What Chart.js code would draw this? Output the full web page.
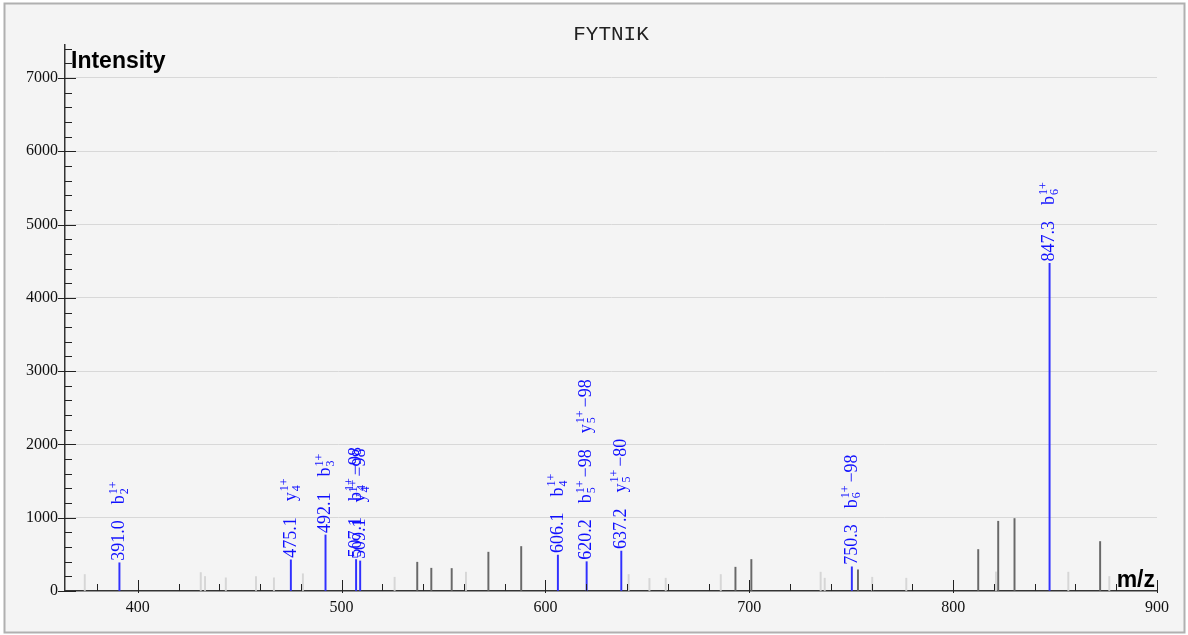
<!DOCTYPE html>
<html>
<head>
<meta charset="utf-8">
<title>FYTNIK</title>
<script src="https://cdn.jsdelivr.net/npm/chart.js@4.4.1/dist/chart.umd.min.js"></script>
<style>
  html, body { margin: 0; padding: 0; background: #fff; }
</style>
</head>
<body>
<canvas id="spectrum" width="1188" height="635"></canvas>
<script>
const peptide = "FYTNIK";

// matched fragment peaks (blue, annotated)
const matchedMz = [391.0, 475.1, 492.1, 507.1, 509.1, 606.1, 620.2, 637.2, 750.3, 847.3];
const matchedIntensity = [385, 425, 765, 430, 410, 490, 400, 545, 330, 4470];
const matchedIons = [["b2"], ["y4"], ["b3"], ["b4-98"], ["y4-98"], ["b4"], ["b5-98", "y5-98"], ["y5-80"], ["b6-98"], ["b6"]];
const ionCharge = "1+";

// unmatched peaks
const otherMz = [537.1, 544.0, 554.0, 572.0, 588.1, 693.2, 701.0, 753.3, 812.3, 822.1, 830.1, 872.1];
const otherIntensity = [393, 311, 307, 530, 607, 325, 430, 289, 566, 952, 989, 675];

// faint peaks
const faintMz = [374.0, 430.9, 433.0, 443.2, 458.0, 466.8, 481.0, 526.0, 561.0, 640.8, 651.0, 659.0,
  686.0, 735.0, 737.0, 760.3, 777.0, 821.0, 856.5, 876.6];
const faintIntensity = [225, 252, 198, 180, 198, 180, 235, 188, 257, 225, 172, 175,
  225, 257, 175, 188, 175, 260, 257, 198];

const toPoints = (xs, ys) => xs.map((x, i) => ({ x: x, y: ys[i] }));

const serif = '"Liberation Serif", "Times New Roman", serif';
const sans = '"Liberation Sans", Arial, sans-serif';

const framePlugin = {
  id: "frame",
  beforeDraw(chart) {
    const ctx = chart.ctx;
    ctx.save();
    ctx.fillStyle = "#ffffff";
    ctx.fillRect(0, 0, chart.width, chart.height);
    ctx.fillStyle = "#f4f4f4";
    ctx.fillRect(4, 3, chart.width - 8, chart.height - 6);
    ctx.strokeStyle = "#b0b0b0";
    ctx.lineWidth = 2;
    ctx.strokeRect(4.5, 3.5, chart.width - 8, chart.height - 6);
    ctx.restore();
  },
  afterDraw(chart) {
    const ctx = chart.ctx;
    const area = chart.chartArea;
    ctx.save();
    ctx.fillStyle = "#222";
    ctx.font = '21px "Liberation Mono", "Courier New", monospace';
    ctx.textAlign = "center";
    ctx.textBaseline = "middle";
    ctx.fillText(peptide, (area.left + area.right) / 2, 34);
    ctx.fillStyle = "#000";
    ctx.font = "bold 23px " + sans;
    ctx.textBaseline = "alphabetic";
    ctx.textAlign = "left";
    ctx.fillText("Intensity", area.left + 6, 68);
    ctx.textAlign = "right";
    ctx.fillText("m/z", area.right - 2, 587);
    ctx.restore();
  }
};

// inward tick marks: major + minor
const ticksPlugin = {
  id: "inwardTicks",
  afterDatasetsDraw(chart) {
    const ctx = chart.ctx;
    const xs = chart.scales.x, ys = chart.scales.y;
    const area = chart.chartArea;
    ctx.save();
    ctx.strokeStyle = "#222";
    ctx.lineWidth = 1;
    ctx.beginPath();
    ys.ticks.forEach(t => {
      const v = Math.round(t.value);
      if (v % 200 !== 0) return;
      const py = Math.round(ys.getPixelForValue(v)) + 0.5;
      if (v % 1000 === 0) {
        ctx.moveTo(area.left - 7, py);
        ctx.lineTo(area.left + 11, py);
      } else {
        ctx.moveTo(area.left, py);
        ctx.lineTo(area.left + 7, py);
      }
    });
    xs.ticks.forEach(t => {
      const v = Math.round(t.value);
      if (Math.abs(t.value - v) > 1e-6 || v % 20 !== 0) return;
      const px = Math.round(xs.getPixelForValue(v)) + 0.5;
      if (v % 100 === 0) {
        ctx.moveTo(px, area.bottom + 2);
        ctx.lineTo(px, area.bottom - 11);
      } else {
        ctx.moveTo(px, area.bottom);
        ctx.lineTo(px, area.bottom - 7);
      }
    });
    ctx.stroke();
    ctx.restore();
  }
};

// rotated m/z and ion labels over matched peaks
function drawIon(ctx, label, x0) {
  const parts = label.split("-");
  const ion = parts[0][0];
  const index = parts[0].slice(1);
  ctx.font = "18px " + serif;
  ctx.fillText(ion, x0, 0);
  let x = x0 + ctx.measureText(ion).width + 1;
  ctx.font = "12px " + serif;
  ctx.fillText(ionCharge, x, -6);
  ctx.fillText(index, x, 5.5);
  x += Math.max(ctx.measureText(ionCharge).width, ctx.measureText(index).width);
  if (parts[1]) {
    x += 3;
    ctx.font = "18px " + serif;
    const loss = "\u2212" + parts[1];
    ctx.fillText(loss, x, 0);
    x += ctx.measureText(loss).width;
  }
  return x - x0;
}

const labelPlugin = {
  id: "peakLabels",
  afterDatasetsDraw(chart) {
    const ctx = chart.ctx;
    const xs = chart.scales.x, ys = chart.scales.y;
    ctx.save();
    ctx.fillStyle = "#1010ff";
    ctx.textAlign = "left";
    ctx.textBaseline = "middle";
    matchedMz.forEach((mz, i) => {
      const px = xs.getPixelForValue(mz);
      const py = ys.getPixelForValue(matchedIntensity[i]);
      ctx.save();
      ctx.translate(px, py);
      ctx.rotate(-Math.PI / 2);
      ctx.font = "18px " + serif;
      const txt = mz.toFixed(1);
      ctx.fillText(txt, 2, 0);
      let off = 2 + ctx.measureText(txt).width + 16;
      matchedIons[i].forEach(lbl => {
        off += drawIon(ctx, lbl, off) + 16;
      });
      ctx.restore();
    });
    ctx.restore();
  }
};

new Chart(document.getElementById("spectrum"), {
  type: "bar",
  data: {
    datasets: [
      {
        label: "matched",
        data: toPoints(matchedMz, matchedIntensity),
        backgroundColor: "#3030ff",
        barThickness: 1.3
      },
      {
        label: "other",
        data: toPoints(otherMz, otherIntensity),
        backgroundColor: "#686868",
        barThickness: 1.3
      },
      {
        label: "faint",
        data: toPoints(faintMz, faintIntensity),
        backgroundColor: "#d6d6d6",
        barThickness: 1.3
      }
    ]
  },
  options: {
    responsive: false,
    animation: false,
    devicePixelRatio: 1,
    layout: { padding: { top: 45, right: 31, bottom: 0, left: 0 } },
    datasets: { bar: { grouped: false } },
    plugins: {
      legend: { display: false },
      tooltip: { enabled: false },
      title: { display: false }
    },
    scales: {
      x: {
        type: "linear",
        min: 364.3,
        max: 900,
        offset: false,
        afterFit: (scale) => { scale.height = 44; },
        grid: { display: true, drawOnChartArea: false, drawTicks: false, offset: false },
        border: { display: true, color: "#333", width: 1.5 },
        ticks: {
          stepSize: 20,
          includeBounds: false,
          autoSkip: false,
          maxRotation: 0,
          padding: 7,
          color: "#111",
          font: { family: serif, size: 16 },
          callback: (v) => (Math.round(v) % 100 === 0 ? String(Math.round(v)) : "")
        }
      },
      y: {
        min: 0,
        max: 7450,
        afterFit: (scale) => { scale.width = 65; },
        grid: {
          drawTicks: false,
          color: (c) => (c.tick && c.tick.value > 0 && Math.round(c.tick.value) % 1000 === 0 ? "#d8d8d8" : "rgba(0,0,0,0)")
        },
        border: { display: true, color: "#333", width: 1.5 },
        ticks: {
          stepSize: 200,
          includeBounds: false,
          autoSkip: false,
          padding: 7,
          color: "#111",
          font: { family: serif, size: 16 },
          callback: (v) => (Math.round(v) % 1000 === 0 ? String(Math.round(v)) : "")
        }
      }
    }
  },
  plugins: [framePlugin, ticksPlugin, labelPlugin]
});
</script>
</body>
</html>
